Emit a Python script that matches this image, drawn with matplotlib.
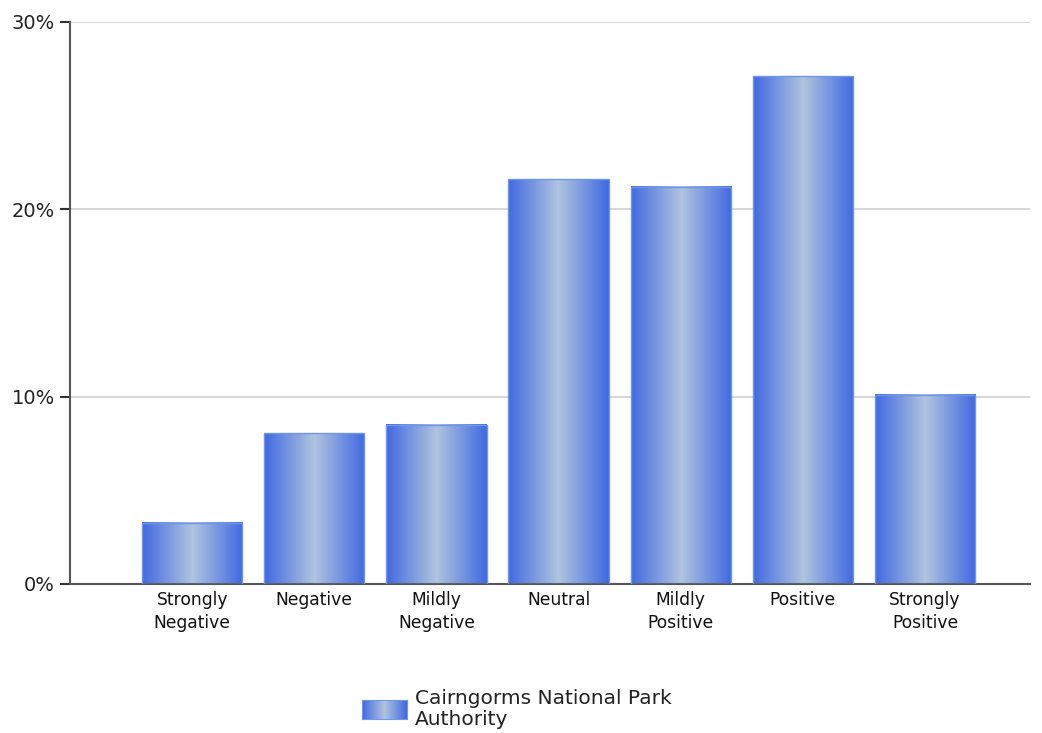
import numpy as np
import matplotlib.pyplot as plt
from matplotlib.colors import LinearSegmentedColormap
from matplotlib.ticker import FuncFormatter

categories = ['Strongly\nNegative', 'Negative', 'Mildly\nNegative', 'Neutral',
              'Mildly\nPositive', 'Positive', 'Strongly\nPositive']
values = [3.26, 8.06, 8.49, 21.6, 21.2, 27.1, 10.1]
series_name = 'Cairngorms National Park\nAuthority'

plt.rcParams['font.family'] = ['DejaVu Sans']

# cylinder-like shading across each bar
shade = LinearSegmentedColormap.from_list(
    'shade', ['#4169E1', '#B0C4DE', '#4169E1'])
grad = np.linspace(0, 1, 256).reshape(1, -1)

fig = plt.figure(figsize=(10.42, 7.33), dpi=100)
ax = fig.add_axes([0.0672, 0.2033, 0.9213, 0.7667])

width = 0.82
x = np.arange(len(categories))
bars = ax.bar(x, values, width=width, color='none', edgecolor='#6f95ee',
              linewidth=1.0, zorder=3)
for b in bars:
    x0, y0 = b.get_x(), b.get_y()
    ax.imshow(grad, cmap=shade, aspect='auto', interpolation='bicubic',
              extent=[x0, x0 + b.get_width(), y0, y0 + b.get_height()],
              zorder=2)

ax.set_xlim(-1.0, 6.86)
ax.set_ylim(0, 30)
ax.set_yticks([0, 10, 20, 30])
ax.yaxis.set_major_formatter(FuncFormatter(lambda v, p: f'{v:.0f}%'))
ax.set_xticks(x)
ax.set_xticklabels(categories, fontsize=12.3, color='#111111', linespacing=1.35)
ax.tick_params(axis='x', length=0, pad=5)
ax.tick_params(axis='y', length=7, width=1.5, color='#333333',
               labelsize=14, labelcolor='#222222', pad=4)
ax.grid(axis='y', color='#d0d0d0', linewidth=1.2, zorder=0)
ax.set_axisbelow(True)
for s in ['top', 'right']:
    ax.spines[s].set_visible(False)
for s in ['left', 'bottom']:
    ax.spines[s].set_color('#555555')
    ax.spines[s].set_linewidth(1.5)

# legend swatch and label
lax = fig.add_axes([362 / 1042, 1 - 719 / 733, 45 / 1042, 19 / 733])
lax.imshow(grad, cmap=shade, aspect='auto', interpolation='bicubic')
for s in lax.spines.values():
    s.set_color('#6f95ee')
lax.set_xticks([])
lax.set_yticks([])
fig.text(415 / 1042, 1 - 709 / 733, series_name, fontsize=14.5,
         va='center', ha='left', color='#222222', linespacing=1.1)

fig.savefig('out.png', dpi=100)
